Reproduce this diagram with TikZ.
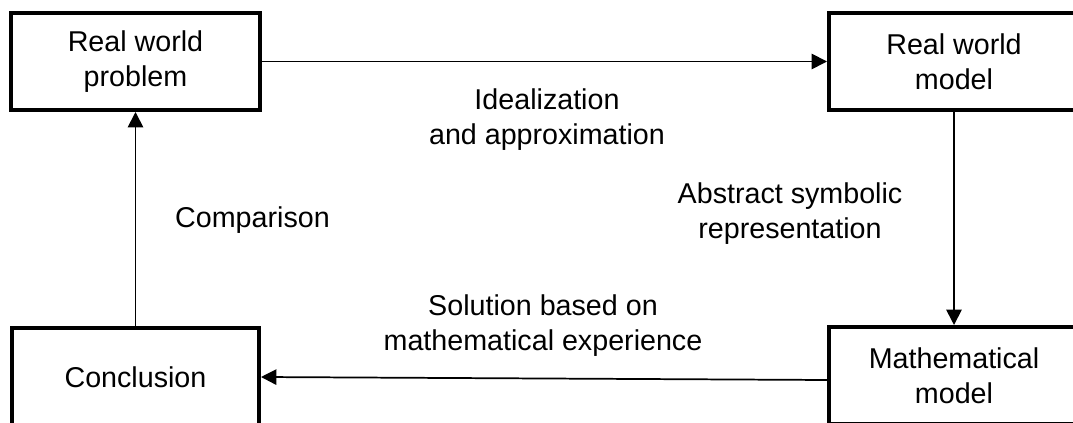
\documentclass[tikz,border=0pt]{standalone}
\usepackage{fontspec}
\setmainfont{Liberation Sans}
\usetikzlibrary{arrows.meta,calc}
\begin{document}
\begin{tikzpicture}[x=0.75pt,y=-0.75pt,
  txt/.style={font=\fontsize{21.5pt}{26.2pt}\selectfont, align=center, inner sep=0pt},
  box/.style={txt, draw, line width=3pt},
  lbl/.style={txt},
  arr/.style={line width=1.3pt, -{Triangle[length=11.5pt,width=11.5pt]}}]
\useasboundingbox (0,0) rectangle (1073,423);
\clip (0,0) rectangle (1073,423);
\node[box, minimum width=249*0.75pt, minimum height=97*0.75pt] (P) at (135.5,61.5) {Real world\\problem};
\node[box, minimum width=250*0.75pt, minimum height=97*0.75pt] (M) at (954,61.5) {Real world\\model};
\node[box, minimum width=247*0.75pt, minimum height=98*0.75pt] (C) at (135.5,377) {Conclusion};
\node[box, minimum width=250*0.75pt, minimum height=97*0.75pt] (MM) at (954,375.5) {Mathematical\\model};
\draw[arr] (P.east) -- (M.west);
\draw[arr] (M.south) -- (MM.north);
\draw[arr] ($(MM.west)+(0,4.5)$) -- (C.east);
\draw[arr] (C.north) -- (P.south);
\node[lbl] (L1) at (547,119.5) {Idealization\\and approximation};
\node[lbl] (L2) at (790,213.5) {Abstract symbolic\\representation};
\node[lbl] (L3) at (252.5,219.6) {Comparison};
\node[lbl] (L4) at (543,325.5) {Solution based on\\mathematical experience};
\end{tikzpicture}
\end{document}
